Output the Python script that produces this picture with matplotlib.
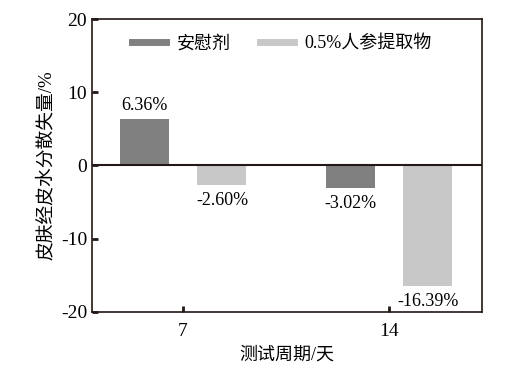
import numpy as np
import matplotlib.pyplot as plt

plt.rcParams['font.family'] = ['Liberation Serif', 'Noto Sans CJK SC']
plt.rcParams['axes.unicode_minus'] = False

# data
days = ['7', '14']
series = ['安慰剂', '0.5%人参提取物']
placebo = [6.36, -3.02]
ginseng = [-2.60, -16.39]
colors = ['#808080', '#c8c8c8']

fig = plt.figure(figsize=(5.17, 3.69), dpi=100)
ax = fig.add_axes([0.178, 0.1545, 0.754, 0.794])

x = np.arange(len(days))
w = 0.238
off = 0.189
for vals, sign, c, name in [(placebo, -1, colors[0], series[0]),
                            (ginseng, 1, colors[1], series[1])]:
    ax.bar(x + sign * off, vals, width=w, color=c)
    ax.plot([], [], color=c, lw=5, label=name)
    for xi, v in zip(x + sign * off, vals):
        if v >= 0:
            ax.text(xi, v + 0.7, f'{v:.2f}%', ha='center', va='bottom', fontsize=13)
        else:
            ax.text(xi, v - 1.0, f'{v:.2f}%', ha='center', va='top', fontsize=13)

ax.axhline(0, color='#231815', lw=1.5)
ax.set_xlim(-0.442, 1.451)
ax.set_ylim(-20, 20)
ax.set_yticks([-20, -10, 0, 10, 20])
ax.set_xticks(x)
ax.set_xticklabels(days)
ax.tick_params(direction='in', length=4, width=2, labelsize=14, color='#231815')
ax.tick_params(axis='x', pad=8)
for s in ax.spines.values():
    s.set_color('#231815')
    s.set_linewidth(1.2)

ax.set_xlabel('测试周期/天', fontsize=13, labelpad=5)
ax.set_ylabel('皮肤经皮水分散失量/%', fontsize=13.5, labelpad=4)

ax.legend(loc='upper left', ncol=2, frameon=False, fontsize=13,
          handlelength=1.9, handletextpad=0.6, columnspacing=1.6,
          bbox_to_anchor=(0.06, 1.0))

fig.savefig('out.png', dpi=100)
